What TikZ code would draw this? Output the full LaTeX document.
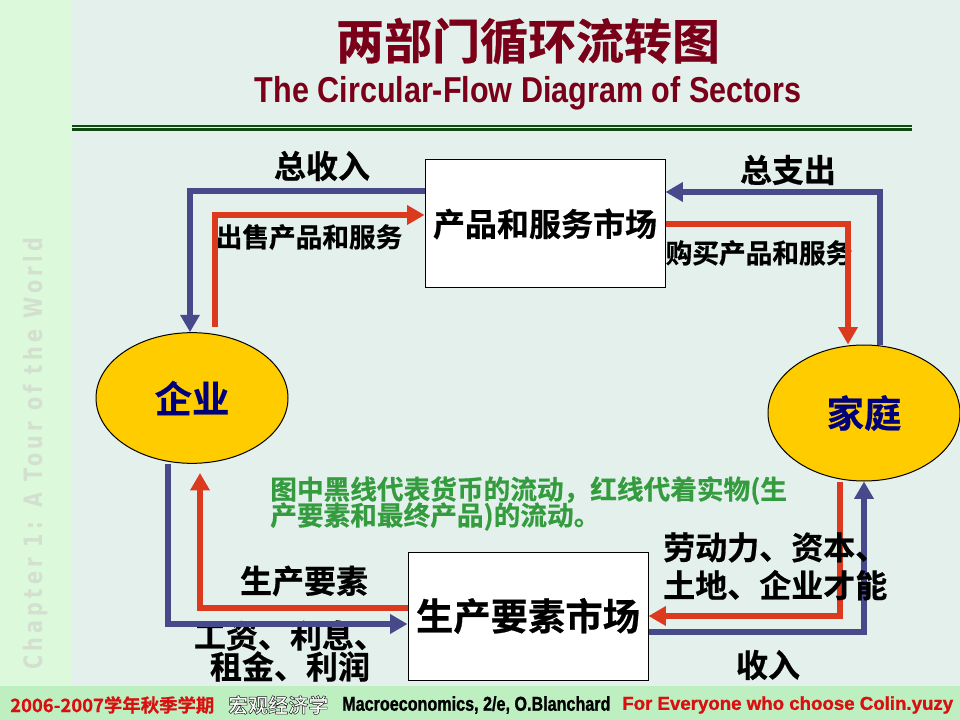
\documentclass[tikz,border=0pt]{standalone}
\usepackage{fontspec}
\usetikzlibrary{arrows.meta,shapes.geometric}
\setmainfont{Liberation Sans}[BoldFont={Liberation Sans Bold}]
\newfontfamily\cjk[FakeBold=0.6]{Noto Sans CJK SC Bold}
\newfontfamily\cjkplain{Noto Sans CJK SC Bold}
\newfontfamily\latb{Liberation Sans Bold}
\newfontfamily\latheavy[FakeBold=1.2]{Liberation Sans Bold}
\newfontfamily\spaced[LetterSpace=22]{DejaVu Sans Bold}
\definecolor{bgc}{HTML}{E3F0EC}
\definecolor{bandc}{HTML}{DDF9DC}
\definecolor{footc}{HTML}{BDEFC0}
\definecolor{titlec}{HTML}{7A0019}
\definecolor{rulec}{HTML}{0F4A12}
\definecolor{flowblue}{HTML}{474A8A}
\definecolor{flowred}{HTML}{DC3A1E}
\definecolor{notec}{HTML}{349C3E}
\definecolor{gold}{HTML}{FFCC00}
\definecolor{navytext}{HTML}{00007A}
\definecolor{chapc}{HTML}{D3DFCF}
\definecolor{footred}{HTML}{D81010}
\tikzset{
  x=0.75pt,y=-0.75pt,
  marketbox/.style={draw=black,line width=0.75pt,fill=white,minimum width=180pt,minimum height=96pt,inner sep=0pt},
  agent/.style={ellipse,draw=black,line width=0.75pt,fill=gold,minimum width=144pt,inner sep=0pt,text=navytext,font=\cjk\fontsize{28}{30}\selectfont},
  lab/.style={inner sep=0pt,font=\cjk\fontsize{24}{28.5}\selectfont\setlength{\lineskiplimit}{-20pt},text=black},
  smalllab/.style={inner sep=0pt,font=\cjk\fontsize{20}{24}\selectfont,text=black},
  flow/.style={line width=4.5pt,line join=miter,-{Triangle[length=13pt,width=14pt]}},
  blueflow/.style={flow,draw=flowblue,color=flowblue},
  redflow/.style={flow,draw=flowred,color=flowred},
}
\begin{document}
\begin{tikzpicture}
\useasboundingbox (0,0) rectangle (960,720);
\fill[bgc] (0,0) rectangle (960,720);
\fill[bandc] (0,0) rectangle (72,686);
\fill[footc] (0,686) rectangle (960,720);
\node[rotate=90,inner sep=0pt,text=chapc,font=\spaced\fontsize{19}{22}\selectfont] (chap) at (36,454) {\scalebox{0.76}[1]{Chapter 1: A Tour of the World}};
\node[inner sep=0pt,text=titlec,font=\cjk\fontsize{36}{40}\selectfont] (title) at (528,41) {两部门循环流转图};
\node[inner sep=0pt,text=titlec,font=\latb\fontsize{27}{30}\selectfont] (subtitle) at (528,93) {\scalebox{0.848}[1]{The Circular-Flow Diagram of Sectors}};
\fill[rulec] (72,125) rectangle (912,127);
\fill[rulec] (72,128) rectangle (912,131);
% labels under connectors
\node[lab] (l1) at (322,166) {总收入};
\node[lab] (l2) at (788,170) {总支出};
\node[smalllab] (l3) at (309,237) {出售产品和服务};
\node[smalllab] (l4) at (759,253) {购买产品和服务};
\node[lab] (l5) at (304,581) {生产要素};
\node[lab,align=center,font=\cjk\fontsize{24}{23.3}\selectfont\setlength{\lineskiplimit}{-20pt}] (l6) at (290,651) {工资、利息、\\租金、利润};
\node[lab] (l7) at (768,665) {收入};
\node[inner sep=0pt,anchor=north west,text=notec,align=left,font=\cjk\fontsize{20}{19.5}\selectfont\setlength{\lineskiplimit}{-20pt}] (note) at (270,476) {图中黑线代表货币的流动，红线代着实物(生\\产要素和最终产品)的流动。};
% nodes
\node[marketbox,font=\cjk\fontsize{24}{28}\selectfont] (prod) at (545,224) {产品和服务市场};
\node[marketbox,font=\cjk\fontsize{28}{32}\selectfont] (fact) at (528,616) {生产要素市场};
\node[agent,minimum height=98pt] (firm) at (192,398) {企业};
\node[agent,minimum height=102pt] (home) at (864,413) {家庭};
% connectors
\coordinate (a1) at (190,191);
\coordinate (a2) at (215,215);
\coordinate (a3) at (215,327);
\coordinate (b1) at (880,192);
\coordinate (b2) at (848,224);
\coordinate (c1) at (840,616);
\coordinate (c2) at (864,632);
\coordinate (d1) at (168,624);
\coordinate (d2) at (200,608);
\coordinate (d3) at (200,473);
\draw[blueflow] (prod.west |- a1) -- (a1) -- (firm.north -| a1);
\draw[redflow] (a3) -- (a2) -- (prod.west |- a2);
\draw[blueflow] (home.north -| b1) -- (b1) -- (prod.east |- b1);
\draw[redflow] (prod.east |- b2) -- (b2) -- (home.north -| b2);
\draw[redflow] (home.south -| c1) -- (c1) -- (fact.east |- c1);
\draw[blueflow] (fact.east |- c2) -- (c2) -- (home.south -| c2);
\draw[blueflow] (firm.south -| d1) -- (d1) -- (fact.west |- d1);
\draw[redflow] (fact.west |- d2) -- (d2) -- (d3);
% labels over connectors
\node[lab,anchor=north west,align=left] (l8) at (663,532) {劳动力、资本、\\土地、企业才能};
% footer
\node[inner sep=0pt,anchor=west,text=footred,font=\cjk\fontsize{13.8}{16}\selectfont] (f1) at (10,705) {2006-2007学年秋季学期};
\node[inner sep=0pt,anchor=west,text=white,font=\cjkplain\fontsize{15}{18}\selectfont] (f2) at (228,705) {\special{pdf:code q 2 Tr 0.35 w 1 1 1 rg 0.1 0.1 0.1 RG}宏观经济学\special{pdf:code Q}};
\node[inner sep=0pt,anchor=west,text=black,font=\latheavy\fontsize{15}{18}\selectfont] (f3) at (342,705) {\scalebox{0.807}[1]{Macroeconomics, 2/e, O.Blanchard}};
\node[inner sep=0pt,anchor=west,text=footred,font=\latheavy\fontsize{14}{18}\selectfont] (f4) at (622,705) {For Everyone who choose Colin.yuzy};
\end{tikzpicture}
\end{document}
